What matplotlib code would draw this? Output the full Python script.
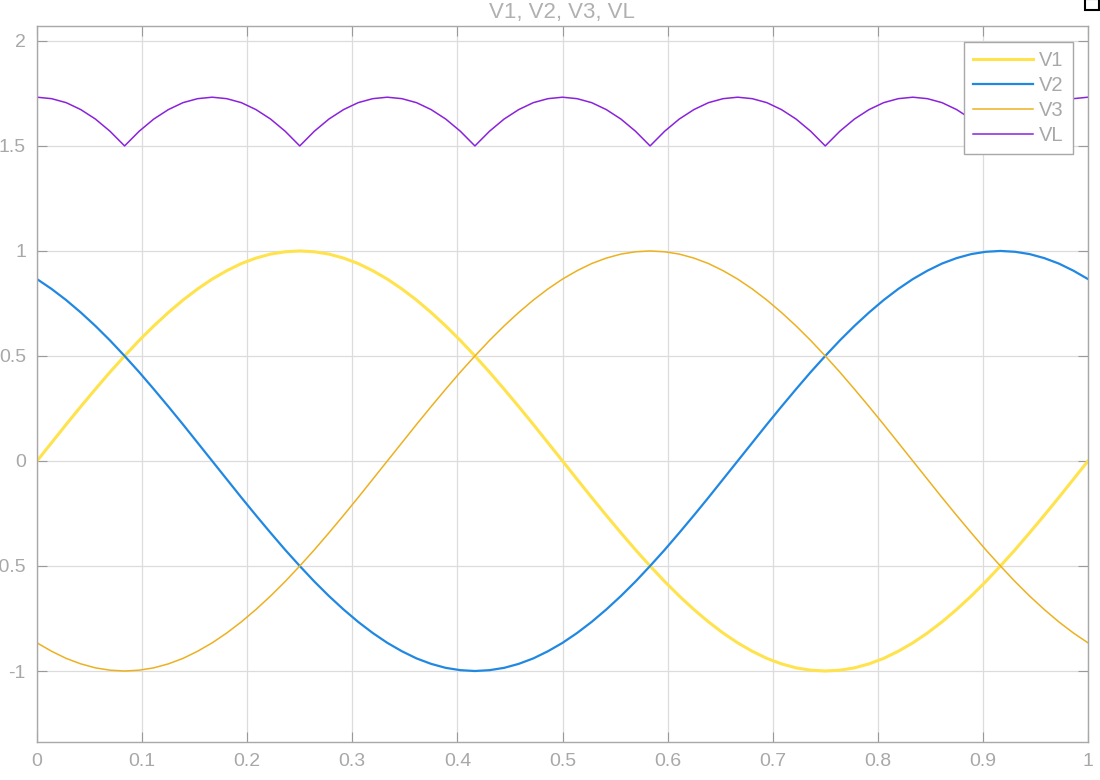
import numpy as np
import matplotlib
matplotlib.use("Agg")
import matplotlib.pyplot as plt
from matplotlib.patches import Rectangle

plt.rcParams['font.family'] = ['Liberation Sans', 'DejaVu Sans']
plt.rcParams['axes.unicode_minus'] = False

# sample times of the scope trace (step 1/72 s)
t = np.linspace(0, 1, 73)

V1 = [0, .087, .174, .259, .342, .423, .5, .574, .643, .707, .766, .819,
      .866, .906, .940, .966, .985, .996, 1, .996, .985, .966, .940, .906,
      .866, .819, .766, .707, .643, .574, .5, .423, .342, .259, .174, .087,
      0, -.087, -.174, -.259, -.342, -.423, -.5, -.574, -.643, -.707, -.766, -.819,
      -.866, -.906, -.940, -.966, -.985, -.996, -1, -.996, -.985, -.966, -.940, -.906,
      -.866, -.819, -.766, -.707, -.643, -.574, -.5, -.423, -.342, -.259, -.174, -.087,
      0]

V2 = [.866, .819, .766, .707, .643, .574, .5, .423, .342, .259, .174, .087,
      0, -.087, -.174, -.259, -.342, -.423, -.5, -.574, -.643, -.707, -.766, -.819,
      -.866, -.906, -.940, -.966, -.985, -.996, -1, -.996, -.985, -.966, -.940, -.906,
      -.866, -.819, -.766, -.707, -.643, -.574, -.5, -.423, -.342, -.259, -.174, -.087,
      0, .087, .174, .259, .342, .423, .5, .574, .643, .707, .766, .819,
      .866, .906, .940, .966, .985, .996, 1, .996, .985, .966, .940, .906,
      .866]

V3 = [-.866, -.906, -.940, -.966, -.985, -.996, -1, -.996, -.985, -.966, -.940, -.906,
      -.866, -.819, -.766, -.707, -.643, -.574, -.5, -.423, -.342, -.259, -.174, -.087,
      0, .087, .174, .259, .342, .423, .5, .574, .643, .707, .766, .819,
      .866, .906, .940, .966, .985, .996, 1, .996, .985, .966, .940, .906,
      .866, .819, .766, .707, .643, .574, .5, .423, .342, .259, .174, .087,
      0, -.087, -.174, -.259, -.342, -.423, -.5, -.574, -.643, -.707, -.766, -.819,
      -.866]

VL = [1.732, 1.725, 1.706, 1.673, 1.628, 1.570, 1.5, 1.570, 1.628, 1.673, 1.706, 1.725,
      1.732, 1.725, 1.706, 1.673, 1.628, 1.570, 1.5, 1.570, 1.628, 1.673, 1.706, 1.725,
      1.732, 1.725, 1.706, 1.673, 1.628, 1.570, 1.5, 1.570, 1.628, 1.673, 1.706, 1.725,
      1.732, 1.725, 1.706, 1.673, 1.628, 1.570, 1.5, 1.570, 1.628, 1.673, 1.706, 1.725,
      1.732, 1.725, 1.706, 1.673, 1.628, 1.570, 1.5, 1.570, 1.628, 1.673, 1.706, 1.725,
      1.732, 1.725, 1.706, 1.673, 1.628, 1.570, 1.5, 1.570, 1.628, 1.673, 1.706, 1.725,
      1.732]

x_ticks = [0, 0.1, 0.2, 0.3, 0.4, 0.5, 0.6, 0.7, 0.8, 0.9, 1]
x_labels = ['0', '0.1', '0.2', '0.3', '0.4', '0.5', '0.6', '0.7', '0.8', '0.9', '1']
y_ticks = [-1, -0.5, 0, 0.5, 1, 1.5, 2]
y_labels = ['-1', '-0.5', '0', '0.5', '1', '1.5', '2']

grey = '#a8a8a8'

fig = plt.figure(figsize=(11, 7.8), dpi=100)
ax = fig.add_axes([37 / 1100, 1 - 742 / 780, (1088 - 37) / 1100, (742 - 26) / 780])

ax.plot(t, V1, color='#FFE34D', lw=2.2, label='V1')
ax.plot(t, V2, color='#2088E2', lw=1.6, label='V2')
ax.plot(t, V3, color='#EDB120', lw=1.1, label='V3')
ax.plot(t, VL, color='#8A22DC', lw=1.1, label='VL')

ax.set_xlim(0, 1)
ax.set_ylim(-1.338, 2.071)
ax.set_xticks(x_ticks)
ax.set_xticklabels(x_labels)
ax.set_yticks(y_ticks)
ax.set_yticklabels(y_labels)

ax.grid(True, color='#dcdcdc', lw=0.9)
ax.set_axisbelow(True)
for s in ax.spines.values():
    s.set_color(grey)
    s.set_linewidth(1.0)
ax.tick_params(direction='in', length=7, width=0.8, color='#9a9a9a',
               labelcolor=grey, labelsize=14, top=True, right=True, pad=8)

leg = ax.legend(loc='upper right', bbox_to_anchor=(0.9857, 0.9777), fontsize=14.5,
                handlelength=3.0, handletextpad=0.3, labelspacing=0.3,
                borderpad=0.45, borderaxespad=0,
                fancybox=False, framealpha=1, edgecolor=grey)
for txt in leg.get_texts():
    txt.set_color(grey)

fig.text(562 / 1100, 1 - 18 / 780, 'V1, V2, V3, VL', ha='center', va='baseline',
         fontsize=16, color='#b0b0b0')

# small scope icon in the top-right corner
fig.patches.append(Rectangle((1085 / 1100, 1 - 10 / 780), 14 / 1100, 11 / 780,
                             transform=fig.transFigure, fill=False,
                             edgecolor='black', lw=1.5))

fig.savefig('out.png', dpi=100)
